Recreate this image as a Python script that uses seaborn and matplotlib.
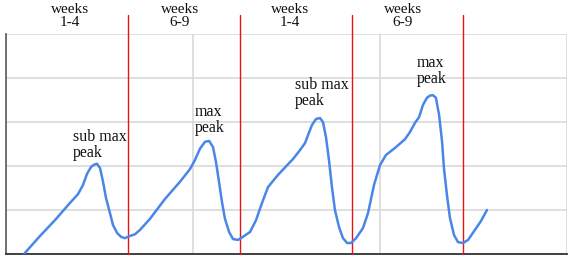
import matplotlib
matplotlib.use("Agg")
import matplotlib.pyplot as plt
import seaborn as sns
import pandas as pd

# curve points (x in grid units 0..3, y in grid units 0..5)
curve_x = [0.096, 0.182, 0.262, 0.342, 0.385, 0.412, 0.433, 0.455, 0.471, 0.487, 0.503, 0.519, 0.535, 0.556, 0.572, 0.594, 0.615, 0.636,
           0.663, 0.690, 0.717, 0.770, 0.850, 0.930, 0.984, 1.011, 1.037, 1.064, 1.086, 1.107, 1.123, 1.139, 1.155, 1.171, 1.193, 1.214, 1.241,
           1.267, 1.305, 1.337, 1.369, 1.401, 1.455, 1.535, 1.572, 1.599, 1.615, 1.636, 1.658, 1.679, 1.695, 1.711, 1.727, 1.743, 1.759, 1.781, 1.802, 1.824, 1.845,
           1.872, 1.909, 1.936, 1.968, 2.000, 2.032, 2.080, 2.134, 2.160, 2.187, 2.209, 2.230, 2.251, 2.267, 2.283, 2.299, 2.316, 2.332, 2.342, 2.358, 2.374, 2.396, 2.417, 2.444,
           2.471, 2.508, 2.540, 2.572]
curve_y = [0.00, 0.41, 0.77, 1.16, 1.36, 1.57, 1.82, 1.98, 2.03, 2.05, 1.95, 1.64, 1.27, 0.93, 0.66, 0.48, 0.39, 0.36,
           0.41, 0.45, 0.55, 0.80, 1.25, 1.64, 1.93, 2.14, 2.39, 2.55, 2.57, 2.43, 2.09, 1.64, 1.18, 0.80, 0.50, 0.34, 0.32,
           0.39, 0.50, 0.77, 1.16, 1.52, 1.80, 2.16, 2.36, 2.52, 2.70, 2.93, 3.07, 3.09, 3.00, 2.66, 2.14, 1.52, 1.00, 0.61, 0.36, 0.25, 0.25,
           0.36, 0.59, 0.93, 1.57, 2.02, 2.25, 2.41, 2.61, 2.77, 2.98, 3.11, 3.39, 3.55, 3.60, 3.61, 3.55, 3.16, 2.55, 1.95, 1.34, 0.82, 0.43, 0.27, 0.25,
           0.32, 0.55, 0.75, 1.00]

red_lines_x = [0.652, 1.251, 1.850, 2.444]

week_labels = ["weeks\n1-4", "weeks\n6-9", "weeks\n1-4", "weeks\n6-9"]
week_x = [0.340, 0.930, 1.519, 2.123]

peak_labels = ["sub max\npeak", "max\npeak", "sub max\npeak", "max\npeak"]
peak_x = [0.358, 1.011, 1.545, 2.198]
peak_y = [2.20, 2.77, 3.39, 3.89]

df = pd.DataFrame({"x": curve_x, "y": curve_y})

sns.set_theme(style="white")
plt.rcParams["font.family"] = ["Liberation Serif", "DejaVu Serif"]

fig = plt.figure(figsize=(5.74, 2.57), dpi=100)
ax = fig.add_axes([6 / 574, 3 / 257, 561 / 574, 220 / 257])

ax.set_xlim(0, 3)
ax.set_ylim(0, 5)
ax.set_xticks([0, 1, 2, 3])
ax.set_yticks([0, 1, 2, 3, 4, 5])
ax.grid(True, color="#d9d9d9", linewidth=1.2)
ax.set_axisbelow(True)
ax.tick_params(left=False, bottom=False, labelleft=False, labelbottom=False)
for s in ["top", "right"]:
    ax.spines[s].set_visible(False)
ax.spines["left"].set_color("#666666")
ax.spines["left"].set_linewidth(1.3)
ax.spines["bottom"].set_color("#333333")
ax.spines["bottom"].set_linewidth(1.3)

for xv in red_lines_x:
    ax.axvline(xv, ymin=0, ymax=239 / 220, color="#ee1111", linewidth=1.0, clip_on=False, zorder=3)

sns.lineplot(data=df, x="x", y="y", ax=ax, color="#4a86e8", linewidth=1.8, sort=False, zorder=4,
             solid_joinstyle="round", solid_capstyle="round")
ax.set_xlabel("")
ax.set_ylabel("")

for lab, xv in zip(week_labels, week_x):
    ax.text(xv, 5.193, lab, ha="center", va="baseline", fontsize=11, linespacing=1.0,
            color="#111111", clip_on=False, multialignment="center")

for lab, xv, yv in zip(peak_labels, peak_x, peak_y):
    ax.text(xv, yv, lab, ha="left", va="baseline", fontsize=11.5, linespacing=0.98,
            color="#111111", clip_on=False)

fig.savefig("out.png", dpi=100)
